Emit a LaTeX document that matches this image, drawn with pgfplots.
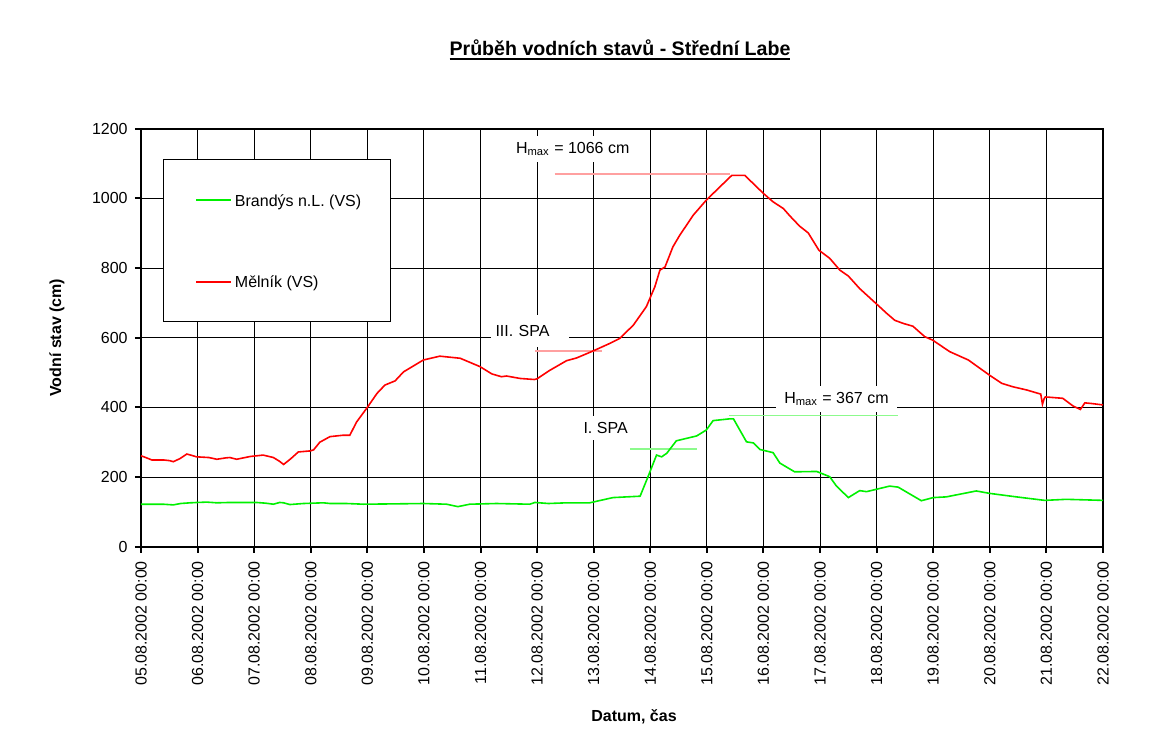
\documentclass[border=0pt]{standalone}
\usepackage{fontspec}
\setmainfont{Liberation Sans}
\usepackage{pgfplots}
\pgfplotsset{compat=1.18}
\definecolor{mred}{RGB}{255,0,0}
\definecolor{mgreen}{RGB}{0,240,0}
\definecolor{lred}{RGB}{255,160,160}
\definecolor{lgreen}{RGB}{140,250,140}
\newcommand\ultitle[1]{\setbox0\hbox{#1}\rlap{\rule[-2.4bp]{\wd0}{0.9bp}}\box0}
\begin{document}
\begin{tikzpicture}[font=\fontsize{8bp}{9.6bp}\selectfont]
\begin{axis}[
  scale only axis, width=481bp, height=209bp,
  xmin=0, xmax=17, ymin=0, ymax=1200,
  xtick={0,1,...,17},
  xticklabels={05.08.2002 00:00,06.08.2002 00:00,07.08.2002 00:00,08.08.2002 00:00,09.08.2002 00:00,10.08.2002 00:00,11.08.2002 00:00,12.08.2002 00:00,13.08.2002 00:00,14.08.2002 00:00,15.08.2002 00:00,16.08.2002 00:00,17.08.2002 00:00,18.08.2002 00:00,19.08.2002 00:00,20.08.2002 00:00,21.08.2002 00:00,22.08.2002 00:00},
  ytick={0,200,...,1200},
  /pgf/number format/assume math mode=true,
  /pgf/number format/1000 sep={},
  tick pos=left, tick align=outside, major tick length=3bp,
  grid=major, grid style={black, line width=0.5bp},
  axis line style={black, line width=1bp},
  every tick/.style={black, line width=1bp},
  xticklabel style={rotate=90, anchor=east, inner sep=0pt},
  xticklabel shift=4bp,
  yticklabel style={anchor=east, inner sep=0pt},
  yticklabel shift=3.5bp,
  title={\bfseries\ultitle{Průběh vodních stavů - Střední Labe}},
  every axis title/.style={at={(rel axis cs:0,1)}, xshift=239.5bp, yshift=39.35bp, anchor=center, font=\fontsize{9.8bp}{11bp}\selectfont},
  xlabel={\bfseries Datum, čas},
  every axis x label/.style={at={(rel axis cs:0,0)}, xshift=246.5bp, yshift=-85bp, anchor=center},
  ylabel={\bfseries Vodní stav (cm)},
  every axis y label/.style={at={(rel axis cs:0,0.5)}, xshift=-42bp, rotate=90, anchor=center},
  legend style={draw=none, fill=none, at={(rel axis cs:0.0561,0.7268)}, anchor=west, inner sep=0pt,
     row sep=32.85bp, column sep=1.5bp,
     nodes={inner sep=0pt, text height=6bp, text depth=2bp, anchor=base west}},
  legend cell align=left,
  legend image code/.code={\draw[#1] (0bp,2.9bp) -- (17.5bp,2.9bp);},
]
% legend frame
\draw[black, line width=0.5bp, fill=white] (rel axis cs:0.02318,0.53923) rectangle (rel axis cs:0.25956,0.92679);
% annotation labels
\node[fill=white, inner xsep=4bp, inner ysep=0pt, minimum height=13bp] at (axis cs:7.63,1141) {H\textsubscript{max} = 1066 cm};
\node[fill=white, anchor=west, inner xsep=2.5bp, inner ysep=0pt, text width=34bp, minimum height=16bp] at (axis cs:6.17,618) {III. SPA};
\node[fill=white, inner xsep=5bp, inner ysep=0pt, minimum height=12bp] at (axis cs:8.21,341) {I. SPA};
\node[fill=white, inner xsep=4bp, inner ysep=0pt, minimum height=13bp] at (axis cs:12.29,424) {H\textsubscript{max} = 367 cm};
% annotation lines
\addplot[lred, line width=0.7bp, forget plot] coordinates {(7.31,1070) (10.41,1070)};
\addplot[lred, line width=0.7bp, forget plot] coordinates {(6.96,562) (8.14,562)};
\addplot[lgreen, line width=0.7bp, forget plot] coordinates {(8.64,280) (9.82,280)};
\addplot[lgreen, line width=0.7bp, forget plot] coordinates {(10.39,376) (13.38,376)};
% Brandys
\addplot[mgreen, line width=0.8bp] coordinates {
(0.00,122) (0.39,122) (0.57,120) (0.70,124) (0.87,126) (1.00,127) (1.16,128) (1.34,126) (1.57,127)
(2.04,127) (2.20,125) (2.34,122) (2.45,127) (2.52,126) (2.63,121) (2.87,124) (3.22,126) (3.34,124)
(3.63,124) (3.93,122) (4.50,123) (4.99,124) (5.40,122) (5.60,115) (5.81,122) (6.28,124) (6.87,122)
(6.96,127) (7.20,124) (7.52,126) (7.93,126) (8.34,141) (8.82,145) (8.96,201) (9.11,263) (9.20,258)
(9.29,268) (9.46,304) (9.64,311) (9.82,318) (9.99,335) (10.11,362) (10.40,367) (10.47,367) (10.70,301)
(10.82,298) (10.94,279) (11.17,270) (11.29,240) (11.55,215) (11.94,216) (12.17,201) (12.29,174)
(12.50,141) (12.70,161) (12.82,158) (13.00,165) (13.23,174) (13.38,171) (13.59,151) (13.79,132)
(14.00,141) (14.23,143) (14.76,160) (15.00,153) (15.47,143) (15.97,133) (16.35,136) (17.00,133)
};
\addlegendentry{Brandýs n.L. (VS)}
% Melnik
\addplot[mred, line width=0.8bp] coordinates {
(0.00,261) (0.10,255) (0.19,249) (0.40,249) (0.51,247) (0.57,244) (0.69,253) (0.81,266) (0.90,262)
(0.98,258) (1.20,256) (1.34,251) (1.50,255) (1.57,256) (1.69,251) (1.93,259) (2.16,263) (2.34,256)
(2.45,245) (2.52,236) (2.65,253) (2.78,272) (2.99,275) (3.05,278) (3.16,300) (3.34,316) (3.57,320)
(3.69,320) (3.81,358) (4.00,400) (4.17,440) (4.31,464) (4.49,476) (4.64,502) (4.99,536) (5.28,547)
(5.64,541) (5.99,517) (6.20,496) (6.37,488) (6.46,490) (6.70,483) (6.95,480) (7.00,482) (7.21,505)
(7.52,534) (7.70,542) (7.99,562) (8.29,584) (8.46,598) (8.70,636) (8.93,689) (9.08,746) (9.17,794)
(9.26,803) (9.40,861) (9.52,894) (9.76,952) (9.99,995) (10.23,1033) (10.44,1066) (10.67,1066)
(11.00,1014) (11.17,990) (11.35,971) (11.47,949) (11.64,920) (11.79,901) (11.98,851) (12.17,828)
(12.35,794) (12.50,777) (12.70,741) (12.99,698) (13.17,671) (13.32,650) (13.47,641) (13.64,633)
(13.85,603) (13.99,593) (14.29,560) (14.62,536) (14.99,493) (15.21,469) (15.41,459) (15.65,450)
(15.90,438) (15.93,409) (15.96,425) (15.98,430) (16.29,426) (16.47,404) (16.60,394) (16.68,413)
(16.80,411) (17.00,407)
};
\addlegendentry{Mělník (VS)}
\end{axis}
\pgfresetboundingbox
\useasboundingbox (-70.5bp,-104.65bp) rectangle (505.5bp,273.35bp);
\end{tikzpicture}
\end{document}
